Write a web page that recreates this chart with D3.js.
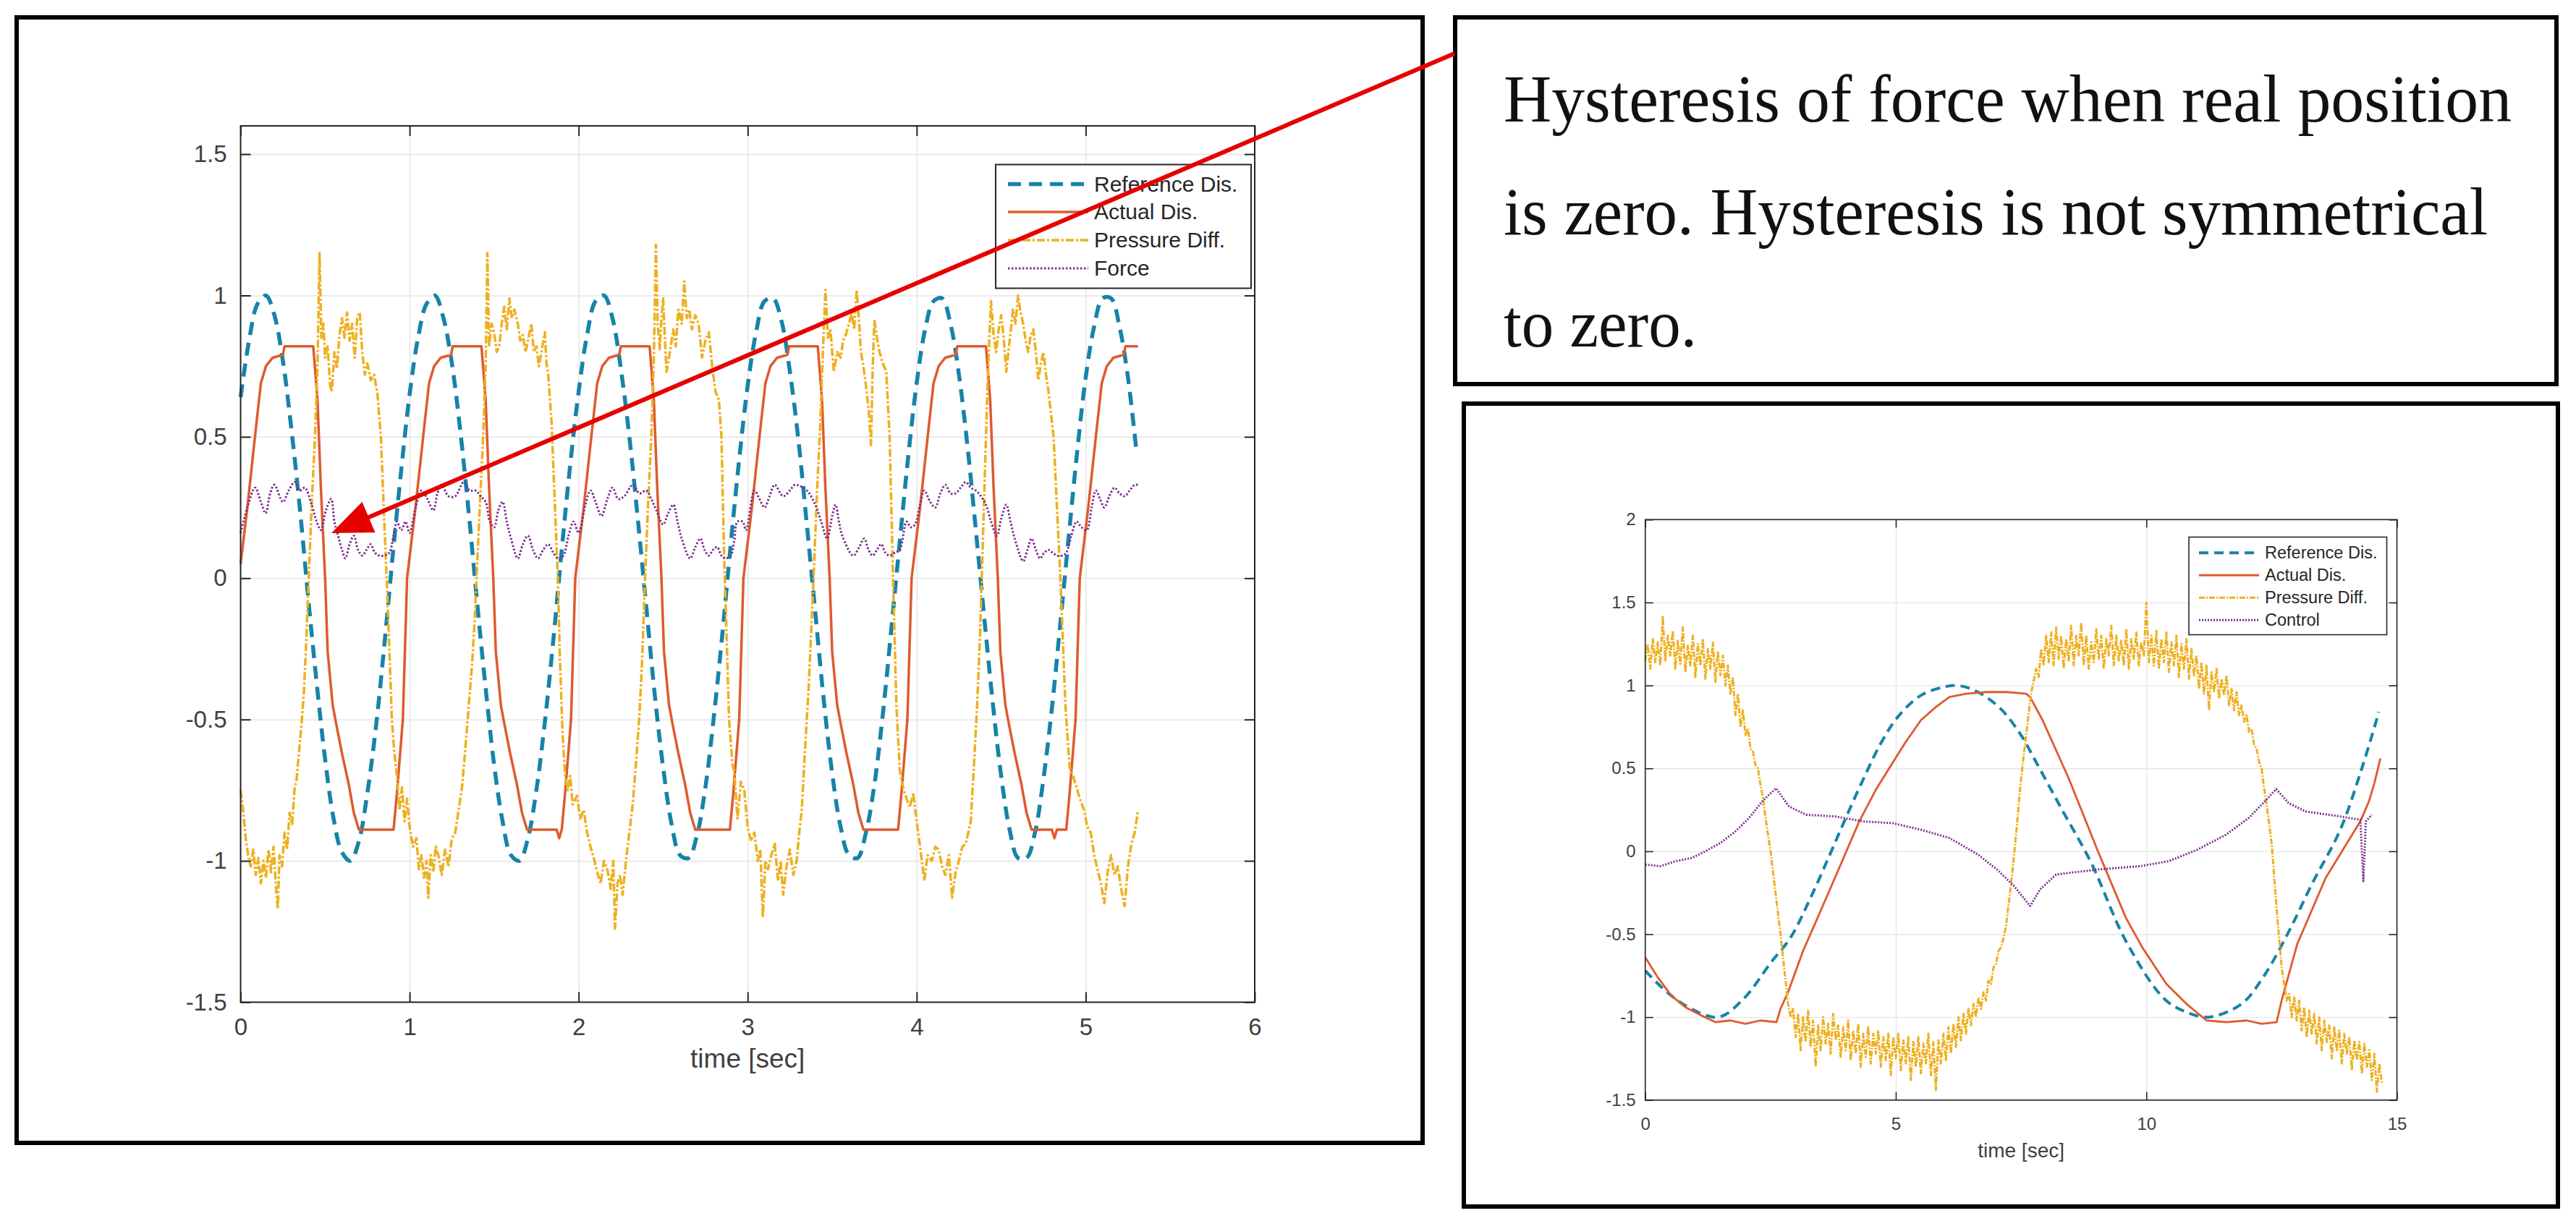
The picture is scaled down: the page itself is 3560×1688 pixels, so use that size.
<!DOCTYPE html>
<html>
<head>
<meta charset="utf-8">
<title>Hysteresis of force</title>
<script src="https://cdn.jsdelivr.net/npm/d3@7"></script>
<style>
    body { margin: 0; background: #fff; }
    svg { display: block; }
</style>
</head>
<body>
<div id="chart"></div>
<script>
// ---- tick labels / names
const leftXTicks = [0, 1, 2, 3, 4, 5, 6];
const leftYTicks = [-1.5, -1, -0.5, 0, 0.5, 1, 1.5];
const rightXTicks = [0, 5, 10, 15];
const rightYTicks = [-1.5, -1, -0.5, 0, 0.5, 1, 1.5, 2];
const leftNames = ["Reference Dis.", "Actual Dis.", "Pressure Diff.", "Force"];
const rightNames = ["Reference Dis.", "Actual Dis.", "Pressure Diff.", "Control"];
const xLabelText = "time [sec]";
const noteLines = ["Hysteresis of force when real position",
                   "is zero. Hysteresis is not symmetrical",
                   "to zero."];

// ---- left plot series  [time, value]
const refLeft = [[0,0.64],[0.05,0.84],[0.1,0.97],[0.15,1.0],[0.2,0.93],[0.25,0.77],[0.3,0.53],[0.35,0.25],[0.4,-0.07],[0.45,-0.37],
    [0.5,-0.64],[0.55,-0.85],[0.6,-0.97],[0.65,-1.0],[0.7,-0.93],[0.75,-0.76],[0.8,-0.53],[0.85,-0.24],[0.9,0.08],[0.95,0.38],
    [1.0,0.65],[1.05,0.85],[1.1,0.97],[1.15,1.0],[1.2,0.92],[1.25,0.76],[1.3,0.52],[1.35,0.23],[1.4,-0.09],[1.45,-0.39],
    [1.5,-0.66],[1.55,-0.86],[1.6,-0.98],[1.65,-1.0],[1.7,-0.92],[1.75,-0.75],[1.8,-0.51],[1.85,-0.22],[1.9,0.1],[1.95,0.4],
    [2.0,0.66],[2.05,0.86],[2.1,0.98],[2.15,1.0],[2.2,0.92],[2.25,0.74],[2.3,0.5],[2.35,0.21],[2.4,-0.1],[2.45,-0.41],
    [2.5,-0.67],[2.55,-0.87],[2.6,-0.98],[2.65,-0.99],[2.7,-0.91],[2.75,-0.74],[2.8,-0.49],[2.85,-0.2],[2.9,0.12],[2.95,0.42],
    [3.0,0.68],[3.05,0.87],[3.1,0.98],[3.15,0.99],[3.2,0.91],[3.25,0.73],[3.3,0.49],[3.35,0.19],[3.4,-0.12],[3.45,-0.43],
    [3.5,-0.69],[3.55,-0.88],[3.6,-0.98],[3.65,-0.99],[3.7,-0.9],[3.75,-0.73],[3.8,-0.48],[3.85,-0.18],[3.9,0.13],[3.95,0.43],
    [4.0,0.69],[4.05,0.88],[4.1,0.98],[4.15,0.99],[4.2,0.9],[4.25,0.72],[4.3,0.47],[4.35,0.17],[4.4,-0.14],[4.45,-0.44],
    [4.5,-0.7],[4.55,-0.89],[4.6,-0.99],[4.65,-0.99],[4.7,-0.9],[4.75,-0.71],[4.8,-0.46],[4.85,-0.16],[4.9,0.15],[4.95,0.45],
    [5.0,0.71],[5.05,0.89],[5.1,0.99],[5.15,0.99],[5.2,0.89],[5.25,0.71],[5.3,0.45]];

const actLeft = [[0,0.05],[0.04,0.25],[0.085,0.5],[0.12,0.69],[0.15,0.75],[0.19,0.78],[0.25,0.79],[0.26,0.82],[0.43,0.82],
    [0.455,0.63],[0.475,0.32],[0.5,0],[0.515,-0.26],[0.545,-0.45],[0.567,-0.52],[0.6,-0.62],[0.64,-0.73],[0.67,-0.83],[0.7,-0.89],
    [0.905,-0.89],[0.925,-0.76],[0.96,-0.5],
    [0.985,0],[1.035,0.25],[1.08,0.5],[1.115,0.69],[1.145,0.75],[1.185,0.78],[1.245,0.79],[1.255,0.82],[1.425,0.82],
    [1.45,0.63],[1.47,0.32],[1.495,0],[1.51,-0.26],[1.54,-0.45],[1.562,-0.52],[1.595,-0.62],[1.635,-0.73],[1.665,-0.83],[1.695,-0.89],
    [1.87,-0.89],[1.885,-0.92],[1.9,-0.89],[1.92,-0.76],[1.955,-0.5],
    [1.98,0],[2.03,0.25],[2.075,0.5],[2.11,0.69],[2.14,0.75],[2.18,0.78],[2.24,0.79],[2.25,0.82],[2.42,0.82],
    [2.445,0.63],[2.465,0.32],[2.49,0],[2.505,-0.26],[2.535,-0.45],[2.557,-0.52],[2.59,-0.62],[2.63,-0.73],[2.66,-0.83],[2.69,-0.89],
    [2.895,-0.89],[2.915,-0.76],[2.95,-0.5],
    [2.975,0],[3.025,0.25],[3.07,0.5],[3.105,0.69],[3.135,0.75],[3.175,0.78],[3.235,0.79],[3.245,0.82],[3.415,0.82],
    [3.44,0.63],[3.46,0.32],[3.485,0],[3.5,-0.26],[3.53,-0.45],[3.552,-0.52],[3.585,-0.62],[3.625,-0.73],[3.655,-0.83],[3.685,-0.89],
    [3.89,-0.89],[3.91,-0.76],[3.945,-0.5],
    [3.97,0],[4.02,0.25],[4.065,0.5],[4.1,0.69],[4.13,0.75],[4.17,0.78],[4.23,0.79],[4.24,0.82],[4.41,0.82],
    [4.435,0.63],[4.455,0.32],[4.48,0],[4.495,-0.26],[4.525,-0.45],[4.547,-0.52],[4.58,-0.62],[4.62,-0.73],[4.65,-0.83],[4.68,-0.89],
    [4.8,-0.89],[4.815,-0.92],[4.83,-0.89],[4.885,-0.89],[4.905,-0.76],[4.94,-0.5],
    [4.965,0],[5.015,0.25],[5.06,0.5],[5.095,0.69],[5.125,0.75],[5.165,0.78],[5.225,0.79],[5.235,0.82],[5.31,0.82]];

const presLeft = [[0,-0.75],[0.015,-0.82],[0.03,-0.92],[0.045,-0.98],[0.06,-1.02],[0.075,-0.96],[0.09,-1.05],[0.105,-0.99],[0.12,-1.08],
    [0.135,-1.0],[0.15,-1.06],[0.165,-0.96],[0.18,-1.04],[0.195,-0.95],[0.21,-1.1],[0.22,-1.17],[0.23,-0.98],[0.245,-1.02],[0.26,-0.9],
    [0.275,-0.96],[0.29,-0.83],[0.305,-0.87],[0.32,-0.74],[0.33,-0.72],[0.345,-0.62],[0.36,-0.52],[0.375,-0.4],[0.39,-0.2],[0.403,0],
    [0.42,0.25],[0.44,0.5],[0.455,0.75],[0.467,1.15],[0.478,0.85],[0.49,0.9],[0.5,0.78],[0.515,0.82],[0.53,0.68],[0.54,0.66],[0.555,0.8],
    [0.57,0.74],[0.585,0.86],[0.6,0.92],[0.615,0.85],[0.63,0.94],[0.645,0.84],[0.66,0.9],[0.675,0.78],[0.69,0.92],[0.705,0.94],[0.72,0.8],
    [0.735,0.72],[0.75,0.76],[0.77,0.7],[0.79,0.72],[0.81,0.65],[0.83,0.5],[0.85,0.2],[0.864,0],[0.88,-0.25],[0.895,-0.5],[0.91,-0.62],
    [0.925,-0.7],[0.94,-0.82],[0.955,-0.74],[0.97,-0.86],[0.985,-0.78],
    [1.0,-0.88],[1.02,-0.95],[1.04,-0.92],[1.055,-1.03],[1.07,-0.98],[1.085,-1.06],[1.1,-1.0],[1.11,-1.13],[1.125,-0.98],[1.14,-1.04],
    [1.155,-0.95],[1.17,-0.98],[1.19,-1.05],[1.21,-0.96],[1.23,-1.02],[1.25,-0.92],[1.27,-0.9],[1.29,-0.82],[1.31,-0.74],[1.33,-0.6],
    [1.35,-0.45],[1.37,-0.3],[1.385,-0.15],[1.396,0],[1.415,0.25],[1.435,0.5],[1.45,0.75],[1.46,1.15],
    [1.47,0.82],[1.485,0.9],[1.5,0.87],[1.515,0.8],[1.53,0.82],[1.545,0.9],[1.56,0.96],[1.575,0.88],[1.59,0.99],[1.605,0.92],[1.62,0.95],
    [1.64,0.9],[1.655,0.84],[1.67,0.86],[1.685,0.8],[1.7,0.84],[1.72,0.9],[1.735,0.8],[1.75,0.82],[1.765,0.75],[1.78,0.8],[1.8,0.87],
    [1.81,0.76],[1.82,0.72],[1.84,0.55],[1.86,0.25],[1.877,0],[1.89,-0.3],[1.905,-0.55],[1.92,-0.7],
    [1.935,-0.75],[1.95,-0.7],[1.965,-0.8],[1.99,-0.77],[2.01,-0.85],[2.03,-0.82],[2.05,-0.9],[2.07,-0.95],[2.09,-0.99],[2.11,-1.04],
    [2.13,-1.08],[2.15,-1.0],[2.17,-1.03],[2.19,-1.1],[2.205,-1.0],[2.215,-1.24],[2.23,-1.08],[2.245,-1.05],[2.26,-1.12],[2.28,-1.0],
    [2.3,-0.9],[2.32,-0.8],[2.34,-0.65],[2.36,-0.48],[2.375,-0.3],[2.393,0],[2.41,0.25],[2.43,0.5],[2.445,0.78],[2.457,1.18],
    [2.468,0.9],[2.48,0.81],[2.49,0.92],[2.5,0.99],[2.51,0.85],[2.52,0.73],[2.54,0.8],[2.56,0.88],[2.575,0.82],[2.59,0.95],[2.61,0.9],
    [2.625,1.05],[2.64,0.92],[2.655,0.95],[2.67,0.88],[2.69,0.93],[2.71,0.9],[2.73,0.78],[2.75,0.84],[2.77,0.87],[2.79,0.75],[2.81,0.66],
    [2.83,0.63],[2.845,0.5],[2.86,0.1],[2.875,-0.2],[2.89,-0.5],[2.91,-0.66],
    [2.92,-0.68],[2.94,-0.85],[2.96,-0.72],[2.98,-0.75],[3.0,-0.88],[3.02,-0.93],[3.04,-0.9],[3.06,-1.0],[3.075,-0.96],[3.09,-1.2],
    [3.105,-1.0],[3.12,-1.03],[3.14,-0.98],[3.16,-0.94],[3.18,-1.07],[3.195,-1.0],[3.21,-1.12],[3.23,-1.02],[3.25,-0.96],[3.27,-1.05],
    [3.29,-1.0],[3.305,-0.9],[3.32,-0.82],[3.34,-0.6],[3.36,-0.4],[3.375,-0.2],[3.39,0],[3.41,0.3],[3.43,0.55],[3.445,0.8],[3.46,1.02],
    [3.475,0.85],[3.49,0.88],[3.5,0.8],[3.51,0.73],[3.53,0.8],[3.55,0.78],[3.565,0.84],[3.58,0.86],[3.6,0.9],[3.615,0.94],[3.63,0.88],
    [3.645,1.02],[3.66,0.9],[3.67,0.8],[3.685,0.75],[3.7,0.68],[3.715,0.6],[3.73,0.47],[3.74,0.75],[3.75,0.91],[3.765,0.85],[3.78,0.8],
    [3.8,0.76],[3.82,0.73],[3.84,0.5],[3.86,0],[3.88,-0.45],[3.9,-0.68],
    [3.92,-0.74],[3.94,-0.78],[3.96,-0.81],[3.98,-0.76],[4.0,-0.86],[4.02,-0.95],[4.045,-1.07],[4.065,-0.98],[4.09,-1.0],[4.11,-0.95],
    [4.13,-0.96],[4.15,-1.02],[4.17,-1.05],[4.19,-0.98],[4.21,-1.13],[4.23,-1.04],[4.25,-1.0],[4.27,-0.95],[4.29,-0.94],[4.305,-0.9],
    [4.32,-0.86],[4.34,-0.65],[4.36,-0.42],[4.375,-0.2],[4.385,0],[4.4,0.3],[4.415,0.6],[4.43,0.85],[4.44,0.98],
    [4.455,0.86],[4.47,0.8],[4.485,0.88],[4.5,0.93],[4.515,0.85],[4.53,0.73],[4.55,0.84],[4.57,0.95],[4.585,0.9],[4.6,1.0],[4.615,0.94],
    [4.63,0.9],[4.645,0.84],[4.66,0.8],[4.675,0.86],[4.69,0.88],[4.705,0.8],[4.72,0.7],[4.735,0.76],[4.75,0.8],[4.765,0.72],[4.78,0.66],
    [4.81,0.5],[4.83,0.25],[4.85,0],[4.865,-0.22],[4.88,-0.45],[4.905,-0.67],
    [4.925,-0.7],[4.946,-0.74],[4.965,-0.78],[4.99,-0.82],[5.01,-0.88],[5.03,-0.9],[5.05,-0.98],[5.07,-1.03],[5.09,-1.08],[5.11,-1.15],
    [5.13,-1.04],[5.15,-0.98],[5.17,-1.05],[5.19,-1.02],[5.21,-1.1],[5.23,-1.16],[5.25,-1.02],[5.27,-0.94],[5.29,-0.9],[5.31,-0.82]];

const forceLeft = [[0,0.16],[0.045,0.26],[0.086,0.32],[0.12,0.27],[0.148,0.23],[0.175,0.3],[0.2,0.33],[0.25,0.27],[0.285,0.31],
    [0.32,0.34],[0.35,0.31],[0.38,0.32],[0.42,0.26],[0.45,0.2],[0.475,0.17],[0.505,0.24],[0.536,0.28],[0.555,0.2],[0.577,0.15],[0.6,0.1],
    [0.62,0.07],[0.645,0.12],[0.67,0.15],[0.695,0.1],[0.72,0.08],[0.745,0.1],[0.77,0.12],[0.795,0.09],[0.82,0.08],[0.85,0.08],[0.88,0.09],
    [0.905,0.15],[0.925,0.2],[0.95,0.17],[0.975,0.2],
    [1.0,0.16],[1.035,0.25],[1.07,0.31],[1.105,0.28],[1.14,0.24],[1.165,0.3],[1.19,0.33],[1.23,0.29],[1.27,0.29],[1.32,0.34],[1.355,0.31],
    [1.39,0.31],[1.42,0.29],[1.45,0.27],[1.475,0.2],[1.5,0.18],[1.525,0.24],[1.55,0.27],[1.575,0.2],[1.6,0.14],[1.64,0.07],[1.67,0.12],
    [1.7,0.15],[1.73,0.1],[1.76,0.07],[1.79,0.1],[1.82,0.12],[1.85,0.09],[1.88,0.07],[1.91,0.08],[1.94,0.15],[1.97,0.2],
    [2.0,0.16],[2.04,0.26],[2.07,0.31],[2.1,0.27],[2.135,0.22],[2.17,0.28],[2.2,0.32],[2.235,0.28],[2.27,0.29],[2.32,0.33],[2.36,0.3],
    [2.4,0.31],[2.43,0.28],[2.46,0.24],[2.5,0.19],[2.53,0.23],[2.56,0.26],[2.585,0.2],[2.61,0.14],[2.66,0.07],[2.69,0.11],[2.72,0.14],
    [2.745,0.1],[2.77,0.08],[2.795,0.1],[2.82,0.11],[2.845,0.08],[2.87,0.07],[2.9,0.08],[2.92,0.13],[2.94,0.2],[2.97,0.2],[2.99,0.17],
    [3.04,0.31],[3.07,0.28],[3.1,0.25],[3.13,0.29],[3.16,0.33],[3.21,0.29],[3.25,0.31],[3.28,0.33],[3.35,0.31],[3.4,0.26],[3.435,0.2],
    [3.47,0.14],[3.5,0.22],[3.52,0.26],[3.54,0.2],[3.56,0.15],[3.625,0.08],[3.66,0.11],[3.69,0.14],[3.715,0.1],[3.74,0.08],[3.765,0.1],
    [3.79,0.12],[3.815,0.09],[3.84,0.08],[3.87,0.09],[3.9,0.1],[3.94,0.2],[3.965,0.18],[3.99,0.19],
    [4.02,0.26],[4.045,0.31],[4.08,0.27],[4.11,0.25],[4.14,0.3],[4.17,0.33],[4.2,0.3],[4.23,0.3],[4.26,0.32],[4.29,0.34],[4.32,0.32],
    [4.35,0.31],[4.38,0.29],[4.41,0.26],[4.44,0.2],[4.475,0.15],[4.5,0.21],[4.53,0.26],[4.555,0.2],[4.58,0.14],[4.63,0.06],[4.655,0.1],
    [4.68,0.14],[4.705,0.1],[4.73,0.07],[4.755,0.09],[4.78,0.1],[4.805,0.09],[4.83,0.08],[4.86,0.08],[4.885,0.09],[4.915,0.15],
    [4.946,0.2],[4.975,0.18],
    [5.006,0.17],[5.035,0.25],[5.06,0.31],[5.085,0.28],[5.11,0.25],[5.14,0.29],[5.17,0.32],[5.2,0.3],[5.23,0.29],[5.26,0.31],[5.29,0.33],[5.31,0.33]];

// ---- right plot series  [time, value]
const refRight = [[0,-0.72],[0.4,-0.84],[0.86,-0.94],[1.46,-1.0],[1.96,-0.89],[2.51,-0.67],[2.9,-0.52],[3.3,-0.28],[3.67,-0.03],
    [4.0,0.2],[4.36,0.44],[4.7,0.65],[5.04,0.81],[5.5,0.94],[5.95,0.99],[6.24,1.0],[6.64,0.96],[7.09,0.86],[7.5,0.7],[7.76,0.56],
    [8.3,0.26],[8.9,-0.07],[9.59,-0.54],[10.36,-0.89],[10.8,-0.97],[11.24,-1.0],[11.9,-0.92],[12.35,-0.75],[12.85,-0.48],[13.3,-0.2],
    [13.87,0.13],[14.3,0.5],[14.64,0.84]];

const actRight = [[0,-0.64],[0.25,-0.76],[0.52,-0.87],[0.8,-0.94],[1.19,-1.0],[1.4,-1.03],[1.7,-1.02],[2.0,-1.04],[2.3,-1.02],
    [2.62,-1.03],[2.7,-0.95],[2.85,-0.85],[3.15,-0.6],[3.34,-0.47],[3.7,-0.22],[4.27,0.18],[4.6,0.37],[4.93,0.53],[5.2,0.66],[5.5,0.79],
    [5.8,0.87],[6.07,0.93],[6.4,0.95],[6.8,0.96],[7.2,0.96],[7.6,0.95],[7.68,0.93],[7.93,0.79],[8.45,0.44],[9.02,0.01],[9.59,-0.4],
    [9.92,-0.58],[10.4,-0.8],[10.8,-0.92],[11.2,-1.02],[11.6,-1.03],[12.0,-1.02],[12.3,-1.04],[12.6,-1.03],[12.7,-0.9],[12.9,-0.68],
    [13.01,-0.56],[13.58,-0.16],[14.27,0.18],[14.44,0.3],[14.55,0.41],[14.67,0.56]];

const presRight = [[0,1.15],[0.05,1.25],[0.1,1.1],[0.15,1.28],[0.2,1.14],[0.25,1.26],[0.3,1.12],[0.35,1.42],[0.4,1.15],[0.45,1.3],
    [0.5,1.18],[0.55,1.33],[0.6,1.1],[0.65,1.27],[0.7,1.13],[0.75,1.35],[0.8,1.08],[0.85,1.24],[0.9,1.12],[0.95,1.3],[1.0,1.05],
    [1.05,1.25],[1.1,1.12],[1.15,1.28],[1.2,1.04],[1.25,1.22],[1.3,1.1],[1.35,1.26],[1.4,1.02],[1.45,1.2],[1.5,1.06],[1.55,1.18],
    [1.6,1.0],[1.65,1.12],[1.7,0.95],[1.75,1.05],[1.8,0.82],[1.85,0.95],[1.9,0.75],[1.95,0.85],[2.0,0.7],[2.05,0.74],[2.1,0.62],
    [2.15,0.6],[2.2,0.52],[2.25,0.5],[2.3,0.4],[2.35,0.32],[2.4,0.2],[2.45,0.1],[2.5,0],[2.6,-0.25],[2.7,-0.5],[2.8,-0.78],[2.85,-0.92],
    [2.9,-1.0],[2.95,-0.95],[3.0,-1.12],[3.05,-0.98],[3.1,-1.2],[3.15,-1.0],[3.2,-1.15],[3.25,-0.96],[3.3,-1.18],[3.35,-1.02],[3.4,-1.3],
    [3.45,-1.05],[3.5,-1.2],[3.55,-1.0],[3.6,-1.16],[3.65,-1.04],[3.7,-1.22],[3.75,-0.98],[3.8,-1.14],[3.85,-1.05],[3.9,-1.24],[3.95,-1.06],
    [4.0,-1.2],[4.05,-1.02],[4.1,-1.26],[4.15,-1.08],[4.2,-1.22],[4.25,-1.04],[4.3,-1.3],[4.35,-1.1],[4.4,-1.24],[4.45,-1.06],[4.5,-1.28],
    [4.55,-1.1],[4.6,-1.22],[4.65,-1.08],[4.7,-1.3],[4.75,-1.12],[4.8,-1.26],[4.85,-1.1],[4.9,-1.35],[4.95,-1.12],[5.0,-1.25],[5.05,-1.1],
    [5.1,-1.32],[5.15,-1.14],[5.2,-1.28],[5.25,-1.12],[5.3,-1.38],[5.35,-1.15],[5.4,-1.3],[5.45,-1.12],[5.5,-1.34],[5.55,-1.16],[5.6,-1.28],
    [5.65,-1.1],[5.7,-1.35],[5.75,-1.15],[5.8,-1.44],[5.85,-1.14],[5.9,-1.28],[5.95,-1.1],[6.0,-1.26],[6.05,-1.06],[6.1,-1.22],[6.15,-1.04],
    [6.2,-1.18],[6.25,-1.0],[6.3,-1.14],[6.35,-0.98],[6.4,-1.1],[6.45,-0.95],[6.5,-1.05],[6.55,-0.92],[6.6,-1.0],[6.65,-0.88],[6.7,-0.95],
    [6.75,-0.85],[6.8,-0.9],[6.85,-0.78],[6.9,-0.8],[6.95,-0.7],[7.0,-0.68],[7.05,-0.6],[7.1,-0.58],[7.15,-0.52],[7.2,-0.45],[7.25,-0.32],
    [7.3,-0.2],[7.4,0.1],[7.5,0.44],[7.6,0.7],[7.7,0.95],[7.8,1.1],[7.85,1.05],[7.9,1.22],[7.95,1.12],
    [8.0,1.3],[8.05,1.14],[8.1,1.32],[8.15,1.12],[8.2,1.35],[8.25,1.16],[8.3,1.3],[8.35,1.1],[8.4,1.28],[8.45,1.15],[8.5,1.36],[8.55,1.12],
    [8.6,1.3],[8.65,1.18],[8.7,1.38],[8.75,1.12],[8.8,1.3],[8.85,1.1],[8.9,1.26],[8.95,1.14],[9.0,1.34],[9.05,1.16],[9.1,1.3],[9.15,1.1],
    [9.2,1.28],[9.25,1.18],[9.3,1.36],[9.35,1.12],[9.4,1.3],[9.45,1.15],[9.5,1.27],[9.55,1.12],[9.6,1.34],[9.65,1.1],[9.7,1.28],[9.75,1.16],
    [9.8,1.32],[9.85,1.12],[9.9,1.26],[9.95,1.18],[10.0,1.5],[10.05,1.14],[10.1,1.3],[10.15,1.12],[10.2,1.33],[10.25,1.1],[10.3,1.28],
    [10.35,1.14],[10.4,1.32],[10.45,1.08],[10.5,1.26],[10.55,1.12],[10.6,1.3],[10.65,1.05],[10.7,1.25],[10.75,1.1],[10.8,1.28],[10.85,1.04],
    [10.9,1.22],[10.95,1.06],[11.0,1.18],[11.05,0.98],[11.1,1.14],[11.15,0.95],[11.2,1.12],[11.25,0.85],[11.3,1.08],[11.35,0.96],[11.4,1.1],
    [11.45,0.92],[11.5,1.04],[11.55,0.94],[11.6,1.06],[11.65,0.88],[11.7,0.98],[11.75,0.85],[11.8,0.96],[11.85,0.82],[11.9,0.88],
    [11.95,0.78],[12.0,0.82],[12.05,0.72],[12.1,0.74],[12.15,0.64],[12.2,0.62],[12.25,0.54],[12.3,0.5],[12.35,0.38],[12.4,0.28],[12.5,0.05],
    [12.6,-0.35],[12.7,-0.7],[12.8,-0.9],[12.85,-0.86],[12.9,-1.0],[12.95,-0.88],[13.0,-1.02],[13.05,-0.9],[13.1,-1.08],[13.15,-0.94],
    [13.2,-1.12],[13.25,-0.96],[13.3,-1.1],[13.35,-0.98],[13.4,-1.16],[13.45,-1.0],[13.5,-1.2],[13.55,-1.02],[13.6,-1.15],[13.65,-1.05],
    [13.7,-1.25],[13.75,-1.06],[13.8,-1.2],[13.85,-1.08],[13.9,-1.28],[13.95,-1.1],[14.0,-1.22],[14.05,-1.12],[14.1,-1.32],[14.15,-1.14],
    [14.2,-1.26],[14.25,-1.15],[14.3,-1.34],[14.35,-1.16],[14.4,-1.3],[14.45,-1.2],[14.5,-1.38],[14.55,-1.22],[14.6,-1.45],[14.65,-1.28],
    [14.7,-1.4]];

const ctrlRight = [[0,-0.08],[0.3,-0.09],[0.6,-0.06],[0.93,-0.04],[1.2,0.0],[1.5,0.05],[1.8,0.12],[2.07,0.2],[2.36,0.31],[2.61,0.38],
    [2.87,0.27],[3.21,0.22],[3.79,0.21],[4.36,0.18],[4.93,0.17],[5.5,0.13],[6.07,0.08],[6.64,-0.02],[7.02,-0.11],[7.36,-0.21],[7.68,-0.33],
    [7.88,-0.23],[8.2,-0.14],[9.02,-0.11],[9.87,-0.09],[10.44,-0.06],[11.02,0.01],[11.59,0.1],[12.04,0.2],[12.33,0.29],[12.59,0.375],
    [12.84,0.29],[13.18,0.24],[13.87,0.21],[14.27,0.19],[14.33,-0.18],[14.38,0.18],[14.5,0.22]];

// matlab default line colours
const colors = ["#1683a8", "#df5a2e", "#eeb020", "#7e2f8e"];

class LinePlot {
    // option: svg, left, top, width, height, xDomain, yDomain, xTicks, yTicks,
    //         series, names, legend, font sizes ...
    constructor(option) {
        for (let [key, value] of Object.entries(option)) {
            this[key] = value;
        }
        this.g = this.svg.append('g');
        this.creatScale();
        this.creatGrid();
        this.creatLines();
        this.creatAxis();
        this.creatLegend();
    }
    creatScale() {
        this.x = d3.scaleLinear().domain(this.xDomain).range([this.left, this.left + this.width]);
        this.y = d3.scaleLinear().domain(this.yDomain).range([this.top + this.height, this.top]);
    }
    creatGrid() {
        let grid = this.g.append('g').attr('class', 'grid');
        grid.append('g')
            .attr('transform', `translate(0,${this.top + this.height})`)
            .call(d3.axisBottom(this.x).tickValues(this.xTicks).tickSize(-this.height).tickFormat(''));
        grid.append('g')
            .attr('transform', `translate(${this.left},0)`)
            .call(d3.axisLeft(this.y).tickValues(this.yTicks).tickSize(-this.width).tickFormat(''));
        grid.selectAll('.domain').remove();
        grid.selectAll('line').attr('stroke', '#e6e6e6').attr('stroke-width', this.gridWidth);
    }
    creatLines() {
        let _this = this;
        this.series.forEach(function(s) {
            let line = d3.line()
                .x(d => _this.x(d[0]))
                .y(d => _this.y(d[1]))
                .curve(s.curve || d3.curveLinear);
            _this.g.append('path')
                .datum(s.data)
                .attr('d', line)
                .attr('fill', 'none')
                .attr('stroke', s.color)
                .attr('stroke-width', s.width)
                .attr('stroke-dasharray', s.dash || null)
                .attr('stroke-linejoin', 'round');
        });
    }
    creatAxis() {
        let fmt = d => String(d);
        let bottom = this.top + this.height, right = this.left + this.width;
        let ax = this.g.append('g').attr('class', 'axes');
        ax.append('g')
            .attr('transform', `translate(0,${bottom})`)
            .call(d3.axisBottom(this.x).tickValues(this.xTicks).tickSizeInner(-this.tickLen)
                .tickSizeOuter(0).tickPadding(this.padX).tickFormat(fmt));
        ax.append('g')
            .attr('transform', `translate(${this.left},0)`)
            .call(d3.axisLeft(this.y).tickValues(this.yTicks).tickSizeInner(-this.tickLen)
                .tickSizeOuter(0).tickPadding(this.padY).tickFormat(fmt));
        ax.append('g')
            .attr('transform', `translate(0,${this.top})`)
            .call(d3.axisTop(this.x).tickValues(this.xTicks).tickSizeInner(-this.tickLen).tickSizeOuter(0).tickFormat(''));
        ax.append('g')
            .attr('transform', `translate(${right},0)`)
            .call(d3.axisRight(this.y).tickValues(this.yTicks).tickSizeInner(-this.tickLen).tickSizeOuter(0).tickFormat(''));
        ax.selectAll('.domain').remove();
        ax.selectAll('.tick line').attr('stroke', '#262626').attr('stroke-width', this.axisWidth);
        ax.selectAll('text')
            .attr('fill', '#404040')
            .attr('font-family', '"Liberation Sans", Arial, sans-serif')
            .attr('font-size', this.tickSize);
        // box
        ax.append('rect')
            .attr('x', this.left).attr('y', this.top)
            .attr('width', this.width).attr('height', this.height)
            .attr('fill', 'none').attr('stroke', '#262626').attr('stroke-width', this.axisWidth);
        // x label
        ax.append('text')
            .attr('x', this.left + this.width / 2)
            .attr('y', this.xLabelY)
            .attr('text-anchor', 'middle')
            .attr('fill', '#404040')
            .attr('font-family', '"Liberation Sans", Arial, sans-serif')
            .attr('font-size', this.labelSize)
            .text(xLabelText);
    }
    creatLegend() {
        let L = this.legend;
        let lg = this.g.append('g').attr('class', 'legend');
        lg.append('rect')
            .attr('x', L.x).attr('y', L.y).attr('width', L.w).attr('height', L.h)
            .attr('fill', '#fff').attr('stroke', '#262626').attr('stroke-width', this.axisWidth);
        let _this = this;
        this.names.forEach(function(name, i) {
            let s = _this.series[i];
            let base = L.rows[i];
            lg.append('line')
                .attr('x1', L.lineX0).attr('x2', L.lineX1)
                .attr('y1', base - L.fontSize * 0.33).attr('y2', base - L.fontSize * 0.33)
                .attr('stroke', s.color).attr('stroke-width', s.width)
                .attr('stroke-dasharray', s.dash || null);
            lg.append('text')
                .attr('x', L.textX).attr('y', base)
                .attr('fill', '#262626')
                .attr('font-family', '"Liberation Sans", Arial, sans-serif')
                .attr('font-size', L.fontSize)
                .text(name);
        });
    }
}

const W = 3560, H = 1688;
const svg = d3.select('#chart').append('svg').attr('width', W).attr('height', H);
svg.append('rect').attr('width', W).attr('height', H).attr('fill', '#fff');

// frames round the three panels
const frames = [[23, 24, 1943, 1556], [2011, 24, 1522, 507], [2023, 558, 1512, 1110]];
svg.selectAll('rect.frame').data(frames).enter().append('rect')
    .attr('class', 'frame')
    .attr('x', d => d[0]).attr('y', d => d[1]).attr('width', d => d[2]).attr('height', d => d[3])
    .attr('fill', 'none').attr('stroke', '#000').attr('stroke-width', 6);

let leftPlot = new LinePlot({
    svg: svg, left: 332.5, top: 174, width: 1401.5, height: 1211.5,
    xDomain: [0, 6], yDomain: [-1.5, 1.6], xTicks: leftXTicks, yTicks: leftYTicks,
    tickLen: 14, padX: 22, padY: 19, tickSize: 33, labelSize: 37, xLabelY: 1476,
    axisWidth: 2, gridWidth: 1.6,
    names: leftNames,
    series: [
        {data: refLeft, color: colors[0], width: 5.5, dash: '18,11', curve: d3.curveCatmullRom},
        {data: actLeft, color: colors[1], width: 3.5},
        {data: presLeft, color: colors[2], width: 3.5, dash: '11,3,3,3'},
        {data: forceLeft, color: colors[3], width: 3, dash: '2.5,2.5', curve: d3.curveCatmullRom}
    ],
    legend: {x: 1376, y: 227.5, w: 353, h: 171, rows: [264.5, 303, 342, 381],
             lineX0: 1393, lineX1: 1504, textX: 1512, fontSize: 30}
});

let rightPlot = new LinePlot({
    svg: svg, left: 2273.7, top: 718.3, width: 1038.8, height: 802.5,
    xDomain: [0, 15], yDomain: [-1.5, 2], xTicks: rightXTicks, yTicks: rightYTicks,
    tickLen: 11, padX: 24, padY: 13, tickSize: 24, labelSize: 28, xLabelY: 1600,
    axisWidth: 1.6, gridWidth: 1.3,
    names: rightNames,
    series: [
        {data: refRight, color: colors[0], width: 4, dash: '13,8', curve: d3.curveCatmullRom},
        {data: actRight, color: colors[1], width: 2.8},
        {data: presRight, color: colors[2], width: 3, dash: '8,2,2,2'},
        {data: ctrlRight, color: colors[3], width: 3, dash: '2,2'}
    ],
    legend: {x: 3025, y: 742.5, w: 273.5, h: 135, rows: [772, 803, 834, 865],
             lineX0: 3039, lineX1: 3122, textX: 3130, fontSize: 23.5}
});

// note text
const note = svg.append('g').attr('class', 'note');
const noteBase = [168, 324, 479];
const noteWidth = [1393, 1360, 267];
noteLines.forEach(function(t, i) {
    note.append('text')
        .attr('x', 2078).attr('y', noteBase[i])
        .attr('font-family', '"Liberation Serif", "DejaVu Serif", serif')
        .attr('font-size', 93)
        .attr('fill', '#111')
        .attr('textLength', noteWidth[i])
        .attr('lengthAdjust', 'spacingAndGlyphs')
        .text(t);
});

// red arrow from the note to the plot
(function() {
    let x0 = 2010, y0 = 74, x1 = 458, y1 = 737;
    let len = 56, half = 23;
    let dx = x1 - x0, dy = y1 - y0, d = Math.hypot(dx, dy);
    let ux = dx / d, uy = dy / d;
    let bx = x1 - ux * len, by = y1 - uy * len;
    svg.append('line')
        .attr('x1', x0).attr('y1', y0).attr('x2', bx + ux * 4).attr('y2', by + uy * 4)
        .attr('stroke', '#e60000').attr('stroke-width', 6);
    svg.append('path')
        .attr('d', `M${x1},${y1}L${bx - uy * half},${by + ux * half}L${bx + uy * half},${by - ux * half}Z`)
        .attr('fill', '#e60000');
})();
</script>
</body>
</html>
